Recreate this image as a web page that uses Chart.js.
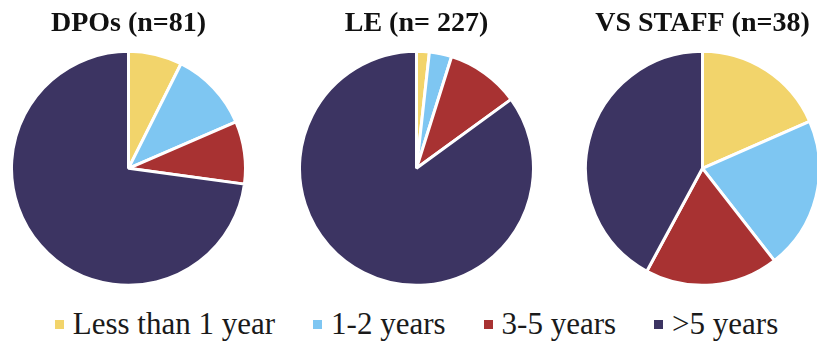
<!DOCTYPE html>
<html>
<head>
<meta charset="utf-8">
<script src="https://cdn.jsdelivr.net/npm/chart.js@4"></script>
<style>
  html,body{margin:0;padding:0;background:#fff;overflow:hidden;}
  body{width:817px;height:345px;position:relative;}
  .pie{position:absolute;top:0;width:237px;height:287px;}
  #legend{position:absolute;left:0;top:304px;width:817px;height:40px;display:flex;justify-content:center;align-items:center;padding-left:16px;box-sizing:border-box;
    font-family:"Liberation Serif","Times New Roman",serif;font-size:31px;color:#1a1a1a;}
  #legend .item{display:flex;align-items:center;margin:0 19px;}
  #legend .sw{width:9px;height:9px;margin-right:9px;}
</style>
</head>
<body>
<div class="pie" style="left:10px"><canvas id="pie1"></canvas></div>
<div class="pie" style="left:297.5px"><canvas id="pie2"></canvas></div>
<div class="pie" style="left:583.5px"><canvas id="pie3"></canvas></div>
<div id="legend"></div>
<script>
// years of experience, counts per group
const categories=["Less than 1 year","1-2 years","3-5 years",">5 years"];
const colors=["#F2D46B","#7EC6F2","#A83232","#3C3462"];
const dpoValues=[6,9,7,59];
const leValues=[4,7,23,193];
const staffValues=[7,8,7,16];
const titles=["DPOs (n=81)","LE (n= 227)","VS STAFF (n=38)"];

function makePie(id,title,values){
  new Chart(document.getElementById(id).getContext('2d'),{
    type:'pie',
    data:{labels:categories,datasets:[{data:values,backgroundColor:colors,borderColor:'#fff',borderWidth:3}]},
    options:{
      responsive:true,maintainAspectRatio:false,animation:false,
      layout:{padding:0},
      plugins:{
        legend:{display:false},
        tooltip:{enabled:false},
        title:{display:true,text:title,color:'#111',padding:{top:7,bottom:9},
          font:{family:'"Liberation Serif","Times New Roman",serif',size:28,weight:'bold'}}
      }
    }
  });
}

makePie('pie1',titles[0],dpoValues);
makePie('pie2',titles[1],leValues);
makePie('pie3',titles[2],staffValues);

// shared legend under the three pies
const legendEl=document.getElementById('legend');
categories.forEach((c,i)=>{
  const item=document.createElement('div');
  item.className='item';
  item.innerHTML=`<span class="sw" style="background:${colors[i]}"></span><span>${c}</span>`;
  legendEl.appendChild(item);
});
</script>
</body>
</html>
